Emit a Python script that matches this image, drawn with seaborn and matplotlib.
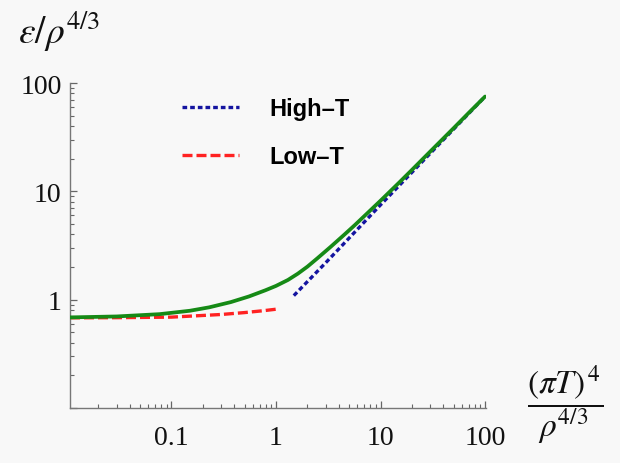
import matplotlib
matplotlib.use("Agg")
import matplotlib.pyplot as plt
import matplotlib.ticker as mticker
import seaborn as sns
import pandas as pd

# ---- data ----
full_x = [0.0107, 0.03, 0.077, 0.15, 0.23, 0.37, 0.55, 0.79, 1.0, 1.3, 1.62, 2.0, 2.5, 3.34, 4.5, 5.7, 7.5, 10, 15, 20, 30, 50, 70, 100]
full_y = [0.686, 0.70, 0.735, 0.79, 0.85, 0.95, 1.07, 1.22, 1.34, 1.52, 1.74, 2.02, 2.42, 3.08, 3.98, 4.9, 6.3, 8.2, 12.0, 15.8, 23.4, 38.3, 53.2, 75]

high_x = [1.48, 2.0, 3.0, 5.0, 10, 20, 30, 50, 100]
high_y = [1.09, 1.47, 2.2, 3.7, 7.5, 15.0, 22.5, 37.5, 75]

low_x = [0.0107, 0.03, 0.1, 0.185, 0.3, 0.5, 0.75, 1.04]
low_y = [0.68, 0.682, 0.69, 0.712, 0.73, 0.76, 0.79, 0.82]

x_ticks = [0.1, 1, 10, 100]
x_ticklabels = ["0.1", "1", "10", "100"]
y_ticks = [0.1, 1, 10, 100]
y_ticklabels = ["", "1", "10", "100"]

bg = "#f8f8f8"
sns.set_style("ticks")
plt.rcParams["mathtext.fontset"] = "stix"

fig = plt.figure(figsize=(6.2, 4.64), dpi=100, facecolor=bg)
ax = fig.add_axes([70 / 620, 1 - 409 / 464, 416 / 620, 325 / 464])
ax.set_facecolor(bg)

df_full = pd.DataFrame({"x": full_x, "y": full_y})
df_high = pd.DataFrame({"x": high_x, "y": high_y})
df_low = pd.DataFrame({"x": low_x, "y": low_y})

sns.lineplot(data=df_low, x="x", y="y", ax=ax, color="#ff2222", lw=2.4,
             linestyle=(0, (3.0, 1.2)), label="Low\u2013T", zorder=2)
sns.lineplot(data=df_high, x="x", y="y", ax=ax, color="#1414a0", lw=2.4,
             linestyle=(0, (1.4, 0.9)), label="High\u2013T", zorder=2)
sns.lineplot(data=df_full, x="x", y="y", ax=ax, color="#168a16", lw=2.7,
             zorder=3, legend=False)

ax.set_xscale("log")
ax.set_yscale("log")
ax.set_xlim(0.0107, 102)
ax.set_ylim(0.1, 100)

ax.set_xticks(x_ticks)
ax.set_xticklabels(x_ticklabels)
ax.set_yticks(y_ticks)
ax.set_yticklabels(y_ticklabels)
ax.xaxis.set_minor_locator(mticker.LogLocator(base=10, subs=range(2, 10), numticks=20))
ax.yaxis.set_minor_locator(mticker.LogLocator(base=10, subs=range(2, 10), numticks=20))
ax.xaxis.set_minor_formatter(mticker.NullFormatter())
ax.yaxis.set_minor_formatter(mticker.NullFormatter())

for s in ["top", "right"]:
    ax.spines[s].set_visible(False)
for s in ["left", "bottom"]:
    ax.spines[s].set_color("#777777")
    ax.spines[s].set_linewidth(1.0)

ax.tick_params(which="major", direction="in", length=5, width=0.9, color="#666666",
               labelsize=20, labelcolor="#111111")
ax.tick_params(which="minor", direction="in", length=3, width=0.8, color="#666666")
ax.tick_params(axis="x", which="major", pad=12)
ax.tick_params(axis="y", which="major", pad=6)
for lbl in ax.get_xticklabels() + ax.get_yticklabels():
    lbl.set_fontfamily("Liberation Serif")

ax.set_xlabel("")
ax.set_ylabel("")

# legend
handles, labels = ax.get_legend_handles_labels()
order = [labels.index("High\u2013T"), labels.index("Low\u2013T")]
leg = ax.legend([handles[i] for i in order], [labels[i] for i in order],
                loc="upper left", bbox_to_anchor=(161 / 620, 1 - 77 / 464),
                bbox_transform=fig.transFigure, frameon=False,
                handlelength=2.4, handletextpad=1.27, labelspacing=1.05,
                prop={"family": "Liberation Sans", "weight": "bold", "size": 17})
for t in leg.get_texts():
    t.set_color("#000000")

# axis labels as in the reference
fig.text(18 / 620, 1 - 10 / 464, r"$\varepsilon/\rho^{4/3}$", fontsize=27,
         ha="left", va="top", color="#111111")
fig.text(527 / 620, 1 - 405 / 464, r"$\dfrac{(\pi T)^{\,4}}{\rho^{4/3}}$", fontsize=24,
         ha="left", va="center", color="#111111")

fig.savefig("out.png", dpi=100, facecolor=bg)
